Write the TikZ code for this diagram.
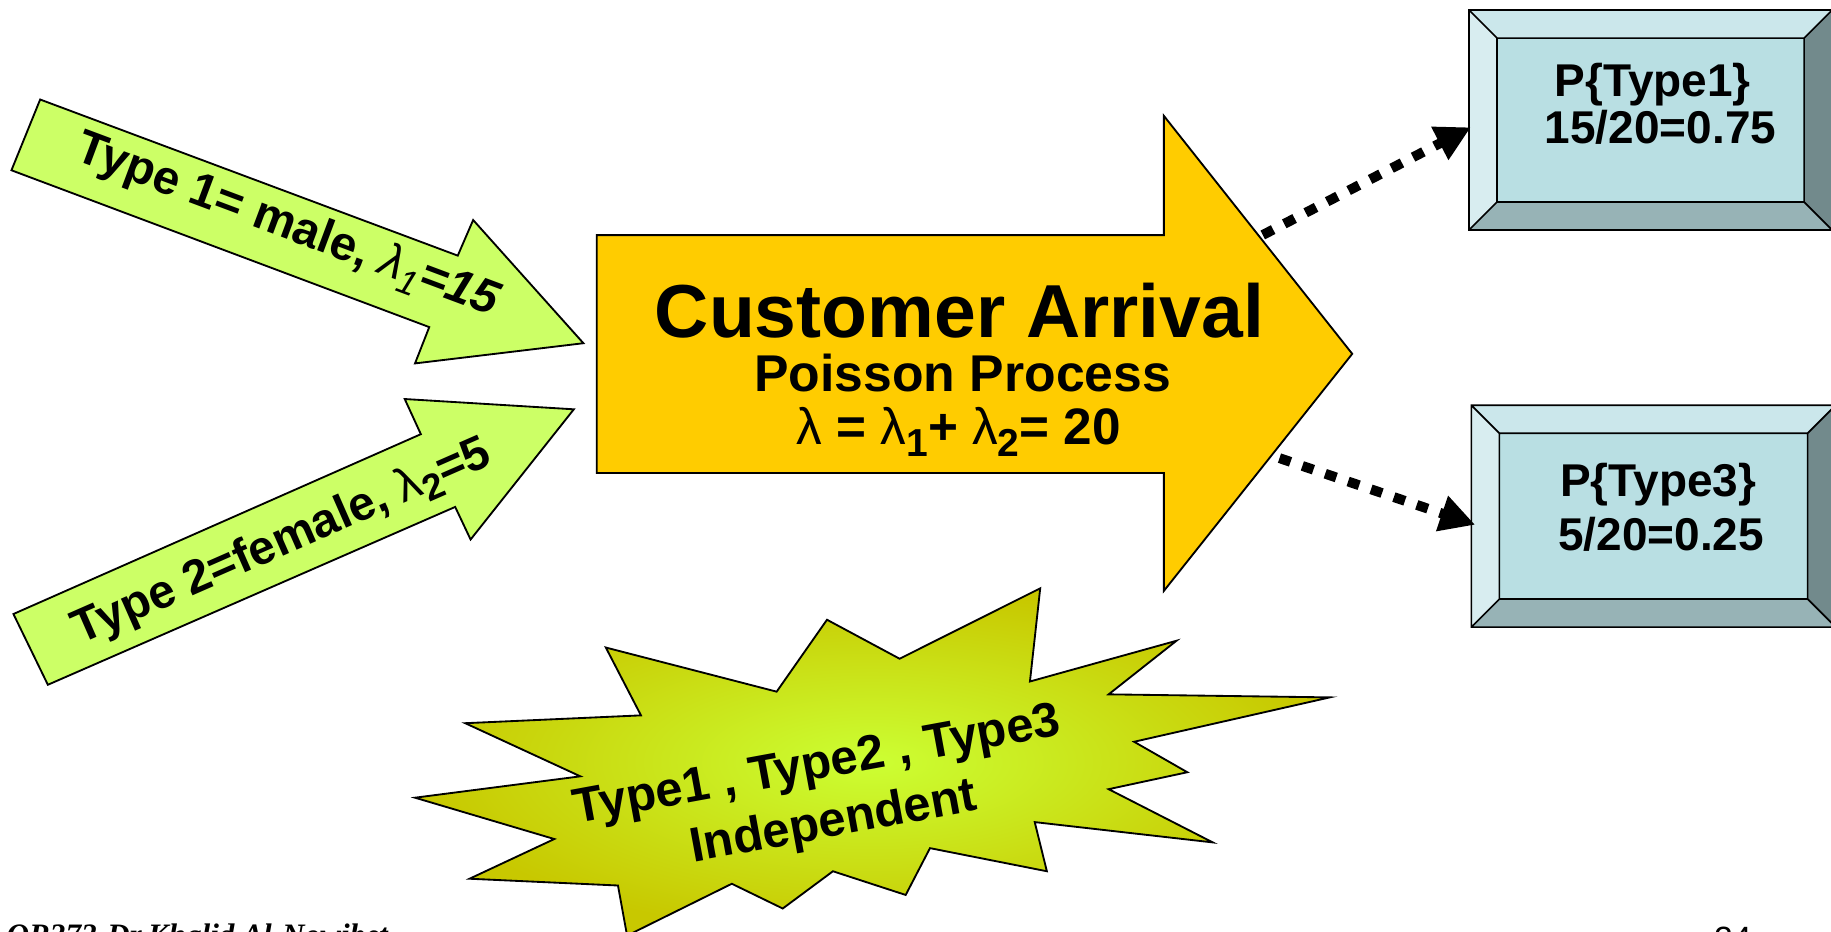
\documentclass[tikz,border=0pt]{standalone}
\usepackage{fontspec}
\usepackage{graphicx}
\setmainfont{Liberation Sans}
\newfontfamily\footserif{Liberation Serif}
\usetikzlibrary{arrows.meta,fit,calc}
\definecolor{greenA}{HTML}{CCFF66}
\definecolor{goldA}{HTML}{FFCC00}
\definecolor{sbIn}{HTML}{CCFF33}
\definecolor{sbOut}{HTML}{C8C800}
\definecolor{bxFace}{HTML}{B9DFE3}
\definecolor{bxTop}{HTML}{CBE7EB}
\definecolor{bxLeft}{HTML}{D8EDF0}
\definecolor{bxBot}{HTML}{97B3B6}
\definecolor{bxRight}{HTML}{728A8C}
\newcommand\fs[1]{\fontsize{#1}{#1}\selectfont}
\newcommand\lsub[3]{\raisebox{#1}{\fontsize{#2}{#2}\selectfont #3}}
\newcommand\bevbox[6]{%
  \fill[bxLeft] (#2,#3) -- ({#2+#6},{#3+#6}) -- ({#2+#6},{#5-#6}) -- (#2,#5) -- cycle;
  \fill[bxTop] (#2,#3) -- (#4,#3) -- ({#4-#6},{#3+#6}) -- ({#2+#6},{#3+#6}) -- cycle;
  \fill[bxRight] (#4,#3) -- (#4,#5) -- ({#4-#6},{#5-#6}) -- ({#4-#6},{#3+#6}) -- cycle;
  \fill[bxBot] (#2,#5) -- (#4,#5) -- ({#4-#6},{#5-#6}) -- ({#2+#6},{#5-#6}) -- cycle;
  \fill[bxFace] ({#2+#6},{#3+#6}) rectangle ({#4-#6},{#5-#6});
  \draw[boxline] (#2,#3) rectangle (#4,#5) ({#2+#6},{#3+#6}) rectangle ({#4-#6},{#5-#6})
    (#2,#3) -- ({#2+#6},{#3+#6}) (#4,#3) -- ({#4-#6},{#3+#6})
    (#2,#5) -- ({#2+#6},{#5-#6}) (#4,#5) -- ({#4-#6},{#5-#6});
  \node[fit={(#2,#3) (#4,#5)}, inner sep=0pt] (#1) {};
}
\begin{document}
\begin{tikzpicture}[x=0.1mm,y=-0.1mm,
  outl/.style={draw=black, line width=0.45pt, line join=miter},
  boxline/.style={draw=black, line width=0.4pt},
  arrowtxt/.style={inner sep=0pt, font=\fs{11.6pt}\bfseries},
  boxtxt/.style={inner sep=0pt, anchor=base, font=\fs{11.2pt}\bfseries},
  burst/.style={inner sep=0pt, anchor=base, rotate=10.4, font=\fs{11.9pt}\bfseries},
  dotarr/.style={line width=2.4pt, dash pattern=on 1mm off 1.07mm,
                 -{Triangle[length=3mm,width=3mm]}}
]
\useasboundingbox (0,0) rectangle (1568,798.1);
\clip (0,0) rectangle (1568,798.1);

% green input arrows
\path[outl, fill=greenA] (34.4,85.2) -- (392,218.9) -- (405.2,188.4) -- (499.6,293.9)
  -- (355.4,311.2) -- (367.6,280.1) -- (9.8,145.8) -- cycle;
\path[outl, fill=greenA] (11.5,525.8) -- (360.4,371.8) -- (346.6,341.7) -- (491.4,350.5)
  -- (403,462) -- (389.8,434.1) -- (41,586.4) -- cycle;
\node[arrowtxt, rotate=-20.5] (t1txt) at (246,194)
  {Type 1= male, {\mdseries\itshape λ}\lsub{-2.5pt}{8.5pt}{\mdseries\itshape 1}{\itshape =15}};
\node[arrowtxt, rotate=23.7] (t2txt) at (242,465)
  {Type 2=female, {\mdseries λ}\lsub{-2.5pt}{9pt}{2}=5};

% main arrow
\path[outl, fill=goldA] (511,201.3) -- (996.7,201.3) -- (996.7,99.2) -- (1158,303)
  -- (996.7,506) -- (996.7,405) -- (511,405) -- cycle;
\node[inner sep=0pt, anchor=base, font=\fs{18.3pt}\bfseries] (title) at (821.7,289.2) {Customer Arrival};
\node[inner sep=0pt, anchor=base, font=\fs{12.6pt}\bfseries] (proc) at (824.5,335.3) {Poisson Process};
\node[inner sep=0pt, anchor=base, font=\fs{12.5pt}\bfseries] (rate) at (821,381)
  {{\mdseries λ} = {\mdseries λ}\lsub{-2.8pt}{9.5pt}{1}+ {\mdseries λ}\lsub{-2.8pt}{9.5pt}{2}= 20};
\coordinate (s1) at (1081.4,201.2);
\coordinate (s2) at (1095.7,392.3);

% result boxes
\bevbox{box1}{1258}{8.6}{1569}{197}{24}
\bevbox{box2}{1260}{347}{1572}{537}{24}
\node[boxtxt] (b1a) at (1415.5,83) {P\{Type1\}};
\node[boxtxt] (b1b) at (1422,123) {15/20=0.75};
\node[boxtxt] (b2a) at (1420,425) {P\{Type3\}};
\node[boxtxt] (b2b) at (1422.5,471) {5/20=0.25};
\coordinate (e1) at ($(box1.west)+(2.3,6.2)$);
\coordinate (e2) at ($(box2.west)+(4,7.4)$);
\draw[dotarr] (s1) -- (e1);
\draw[dotarr] (s2) -- (e2);

% starburst
\shadedraw[outl, inner color=sbIn, outer color=sbOut]
  (890.8,503.8) -- (882.0,583.6) -- (1007.5,548.7) -- (949.4,594.6) -- (1138.8,597.2)
  -- (971.2,635.2) -- (1016.8,661.3) -- (949.4,675.8) -- (1038.6,721.4) -- (886.1,704.0)
  -- (896.5,746.1) -- (796.4,726.3) -- (775.6,766.4) -- (713.3,746.1) -- (670.3,778.0)
  -- (626.7,756.8) -- (537.0,801.2) -- (529.2,758.3) -- (402.1,752.5) -- (474.7,718.5)
  -- (355.4,683.1) -- (497.0,664.8) -- (398.4,619.3) -- (548.9,612.6) -- (518.8,554.5)
  -- (665.1,592.3) -- (708.2,530.7) -- (770.4,564.1) -- cycle;
\node[burst] (sb1) at (702,667) {Type1 , Type2 , Type3};
\node[burst] (sb2) at (716,716) {Independent};

% footer
\node[inner sep=0pt, anchor=base west, font=\footserif\bfseries\itshape\fs{7.6pt}] (foot) at (5,810) {OR372-Dr.Khalid Al-Nowibet};
\node[inner sep=0pt, anchor=base, font=\fs{8.2pt}] (pg) at (1484,814) {24};
\end{tikzpicture}
\end{document}
